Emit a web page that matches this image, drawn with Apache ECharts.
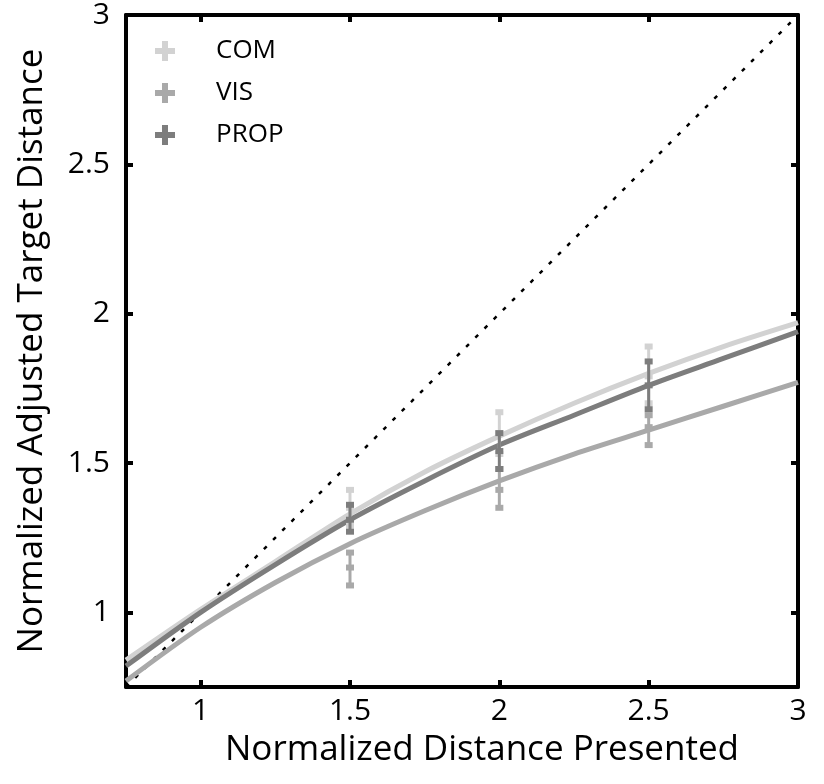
<!DOCTYPE html>
<html>
<head>
<meta charset="utf-8">
<script src="https://cdn.jsdelivr.net/npm/echarts@6/dist/echarts.min.js"></script>
<style>
  html, body { margin: 0; padding: 0; background: #fff; }
  #main { width: 824px; height: 784px; }
</style>
</head>
<body>
<div id="main"></div>
<script>
// fitted curves
var xs   = [0.75, 1, 1.25, 1.5, 1.75, 2, 2.25, 2.5, 2.75, 3];
var com  = [0.84, 1.01, 1.17, 1.33, 1.47, 1.59, 1.70, 1.80, 1.89, 1.97];
var prop = [0.82, 1.00, 1.16, 1.31, 1.44, 1.56, 1.66, 1.76, 1.85, 1.94];
var vis  = [0.77, 0.95, 1.10, 1.23, 1.34, 1.44, 1.53, 1.61, 1.69, 1.77];

// error bars: x, mean, low, high
var barX     = [1.5, 2, 2.5];
var comMean  = [1.35, 1.60, 1.79];
var comLow   = [1.29, 1.53, 1.70];
var comHigh  = [1.41, 1.67, 1.89];
var propMean = [1.31, 1.54, 1.76];
var propLow  = [1.27, 1.48, 1.68];
var propHigh = [1.36, 1.60, 1.84];
var visMean  = [1.15, 1.41, 1.62];
var visLow   = [1.09, 1.35, 1.56];
var visHigh  = [1.20, 1.48, 1.66];

var tickVals = [1, 1.5, 2, 2.5, 3];
var diag = [0.75, 3];

var colors = { COM: '#d2d2d2', VIS: '#a9a9a9', PROP: '#7d7d7d' };

function zip(a, b) { return a.map(function (v, i) { return [v, b[i]]; }); }
function bars(mean, low, high) {
    return barX.map(function (x, i) { return [x, mean[i], low[i], high[i]]; });
}

function renderBar(params, api) {
    var x = api.value(0);
    var m = api.coord([x, api.value(1)]);
    var lo = api.coord([x, api.value(2)]);
    var hi = api.coord([x, api.value(3)]);
    var c = api.visual('color');
    var hw = 4;
    return {
        type: 'group',
        children: [
            { type: 'line', shape: { x1: lo[0], y1: lo[1], x2: hi[0], y2: hi[1] }, style: { stroke: c, lineWidth: 3 } },
            { type: 'rect', shape: { x: lo[0] - hw, y: lo[1] - 3, width: hw * 2, height: 6 }, style: { fill: c } },
            { type: 'rect', shape: { x: hi[0] - hw, y: hi[1] - 3, width: hw * 2, height: 6 }, style: { fill: c } },
            { type: 'rect', shape: { x: m[0] - hw, y: m[1] - 3, width: hw * 2, height: 6 }, style: { fill: c } }
        ]
    };
}

var plusIcon = 'path://M7,0H13V7H20V13H13V20H7V13H0V7H7Z';
var font = 'Open Sans';

var myChart = echarts.init(document.getElementById('main'));
var axisCommon = {
    type: 'value',
    min: 0.75,
    max: 3,
    splitLine: { show: false },
    axisLine: { show: true, onZero: false, lineStyle: { color: '#000', width: 4 } },
    axisTick: { show: true, inside: true, length: 7, customValues: tickVals, lineStyle: { color: '#000', width: 4 } }
};

option = {
    animation: false,
    grid: { left: 126, right: 26, top: 12, bottom: 97 },
    legend: {
        orient: 'vertical',
        left: 150,
        top: 33,
        itemWidth: 20,
        itemHeight: 20,
        itemGap: 16,
        textStyle: { fontFamily: font, fontSize: 26, color: '#000', padding: [0, 0, 0, 36] },
        data: [
            { name: 'COM', icon: plusIcon, itemStyle: { color: colors.COM } },
            { name: 'VIS', icon: plusIcon, itemStyle: { color: colors.VIS } },
            { name: 'PROP', icon: plusIcon, itemStyle: { color: colors.PROP } }
        ]
    },
    xAxis: [
        Object.assign({}, axisCommon, {
            position: 'bottom',
            name: 'Normalized Distance Presented',
            nameLocation: 'middle',
            nameGap: 46,
            nameTextStyle: { fontFamily: font, fontSize: 35, color: '#000', padding: [0, 0, 0, 40] },
            axisLabel: { customValues: tickVals, margin: 9, fontFamily: font, fontSize: 30, color: '#000', formatter: function (v) { return String(v); } }
        }),
        Object.assign({}, axisCommon, { position: 'top', axisLabel: { show: false } })
    ],
    yAxis: [
        Object.assign({}, axisCommon, {
            position: 'left',
            name: 'Normalized Adjusted Target Distance',
            nameLocation: 'middle',
            nameGap: 76,
            nameTextStyle: { fontFamily: font, fontSize: 35, color: '#000' },
            axisLabel: { customValues: tickVals, margin: 16, fontFamily: font, fontSize: 30, color: '#000', formatter: function (v) { return String(v); } }
        }),
        Object.assign({}, axisCommon, { position: 'right', axisLabel: { show: false } })
    ],
    series: [
        {
            name: 'diag', type: 'line', data: zip(diag, diag), symbol: 'none', silent: true,
            lineStyle: { color: '#000', width: 2.5, type: [4, 9] }, z: 1
        },
        { name: 'VIS', type: 'line', data: zip(xs, vis), smooth: 0.3, symbol: 'none', color: colors.VIS, lineStyle: { width: 5 }, z: 2 },
        { name: 'COM', type: 'line', data: zip(xs, com), smooth: 0.3, symbol: 'none', color: colors.COM, lineStyle: { width: 5 }, z: 2 },
        { name: 'PROP', type: 'line', data: zip(xs, prop), smooth: 0.3, symbol: 'none', color: colors.PROP, lineStyle: { width: 5 }, z: 3 },
        { name: 'COM', type: 'custom', renderItem: renderBar, data: bars(comMean, comLow, comHigh), color: colors.COM, encode: { x: 0, y: [1, 2, 3] }, z: 4 },
        { name: 'VIS', type: 'custom', renderItem: renderBar, data: bars(visMean, visLow, visHigh), color: colors.VIS, encode: { x: 0, y: [1, 2, 3] }, z: 4 },
        { name: 'PROP', type: 'custom', renderItem: renderBar, data: bars(propMean, propLow, propHigh), color: colors.PROP, encode: { x: 0, y: [1, 2, 3] }, z: 5 }
    ]
};

myChart.setOption(option); window.onresize = myChart.resize;
</script>
</body>
</html>
